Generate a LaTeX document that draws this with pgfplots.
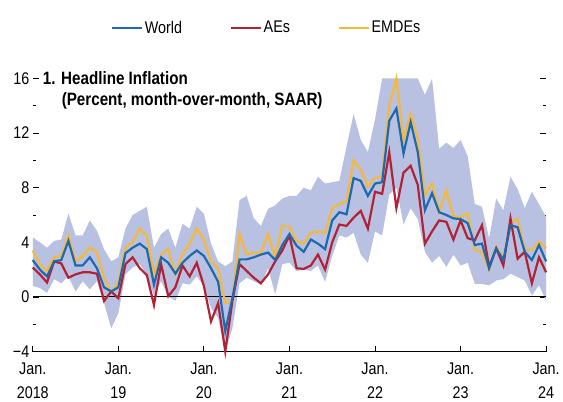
\documentclass[border=0pt]{standalone}
\usepackage{fontspec}
\setmainfont{Liberation Sans}[FakeStretch=0.85]
\usepackage{pgfplots}
\usepackage{pgfplotstable}
\pgfplotsset{compat=1.18}
\usepgfplotslibrary{fillbetween}

\definecolor{worldc}{RGB}{30,104,176}
\definecolor{aesc}{RGB}{178,34,52}
\definecolor{emdesc}{RGB}{246,184,56}
\definecolor{bandc}{RGB}{184,193,226}

% month index from Jan 2018; band = range shown in light blue
\pgfplotstableread{
m world aes emdes lo hi
0 2.7 2.15 3.4 0.8 4.35
1 2.0 1.65 2.4 0.65 4.0
2 1.5 1.05 1.9 0.3 3.6
3 2.6 2.6 2.9 1.3 4.1
4 2.7 2.45 3.0 1.0 4.2
5 4.1 1.4 4.5 1.5 6.1
6 2.3 1.65 2.6 0.4 4.5
7 2.3 1.8 3.0 1.15 4.5
8 2.9 1.8 3.6 0.55 5.6
9 2.1 1.7 3.25 1.15 4.85
10 0.7 -0.3 1.4 -0.45 3.5
11 0.4 0.4 0.3 -2.3 2.6
12 0.7 -0.1 1.1 -1.2 2.9
13 3.2 2.4 3.6 1.65 5.0
14 3.6 2.9 4.0 2.15 6.0
15 3.9 2.1 5.0 2.4 6.3
16 3.5 1.6 4.5 1.65 6.6
17 0.9 -0.6 1.65 0.05 3.6
18 2.9 2.4 3.1 1.15 4.6
19 2.5 0.05 3.5 0.05 5.0
20 1.7 0.7 1.65 -0.3 3.6
21 2.5 2.3 3.1 1.0 5.35
22 3.0 1.5 3.9 0.9 5.0
23 3.4 2.5 5.0 1.5 6.6
24 3.0 0.8 4.2 0.8 6.1
25 2.1 -1.8 2.6 -0.8 3.9
26 1.1 -0.45 2.1 -1.55 2.6
27 -2.5 -4.0 -0.45 -4.0 2.25
28 -0.1 -0.3 -0.3 -2.3 2.6
29 2.75 2.4 4.6 1.0 7.1
30 2.75 1.9 3.1 1.4 7.4
31 2.9 1.4 3.25 1.15 5.75
32 3.1 1.0 3.25 0.9 5.2
33 3.25 1.65 4.6 2.1 6.45
34 2.7 2.6 2.9 0.2 6.7
35 3.8 3.4 5.2 2.4 7.2
36 4.6 4.5 5.15 2.5 7.4
37 3.75 2.1 4.1 1.9 7.4
38 3.3 2.05 3.9 2.0 8.0
39 4.2 2.3 4.7 1.9 7.8
40 3.9 3.1 4.8 2.3 8.8
41 3.5 2.0 4.7 1.1 8.3
42 5.6 4.0 6.5 3.0 8.4
43 6.2 5.3 6.8 4.5 8.5
44 6.05 5.2 7.0 4.35 11.0
45 8.7 5.8 10.0 4.7 13.4
46 8.5 6.3 9.3 3.1 11.5
47 7.4 5.0 8.1 2.5 10.6
48 8.3 7.7 8.7 4.8 13.0
49 8.4 7.55 8.8 4.5 16
50 12.9 10.6 14.0 7.5 16
51 13.8 6.5 16.0 8.0 16
52 10.5 9.1 11.5 5.3 16
53 12.8 9.6 13.4 6.5 16
54 10.6 8.2 11.6 5.7 16
55 6.35 3.9 7.45 3.3 14.8
56 7.6 4.8 8.3 2.5 16
57 6.2 5.6 6.2 3.0 10.85
58 6.0 5.5 7.8 2.2 11.3
59 5.75 4.2 5.9 3.1 10.9
60 5.7 5.6 5.85 2.3 11.5
61 5.4 4.3 6.1 2.5 10.3
62 3.8 4.15 3.45 0.95 6.8
63 3.9 5.25 3.3 0.95 6.6
64 2.1 2.2 2.0 0.85 4.3
65 3.55 3.55 3.7 1.2 7.2
66 2.7 2.3 2.8 1.3 6.35
67 5.25 5.75 5.45 1.7 8.8
68 5.1 2.8 5.7 1.45 7.9
69 3.3 3.3 3.45 1.2 6.5
70 2.7 1.0 3.45 0.1 7.7
71 3.8 2.9 4.05 0.85 6.8
72 2.6 1.8 3.55 -0.3 5.85
}\infl

\begin{document}
\begin{tikzpicture}
\begin{axis}[
  scale only axis, width=517pt, height=275pt,
  xmin=0, xmax=72, ymin=-4, ymax=16,
  clip=false,
  axis line style={draw=none},
  font=\fontsize{17}{20}\selectfont,
  tick align=inside,
  xtick pos=bottom, ytick pos=both,
  xtick={0,12,...,72},
  xticklabels={Jan.\\[4pt]2018,Jan.\\[4pt]19,Jan.\\[4pt]20,Jan.\\[4pt]21,Jan.\\[4pt]22,Jan.\\[4pt]23,Jan.\\[4pt]24},
  xticklabel style={align=center, yshift=-8pt},
  ytick={-4,0,4,8,12,16},
  yticklabels={−4,0,4,8,12,16},
  minor ytick={-2,2,6,10,14},
  major tick length=6pt, minor tick length=3pt,
  tick style={black, line width=0.8pt},
  legend style={draw=none, fill=none, at={(0.5,1)}, anchor=south,
    xshift=-23pt, yshift=40pt, legend columns=3,
    /tikz/every even column/.append style={column sep=46pt}},
  legend image code/.code={\draw[#1] (0pt,0pt) -- (30pt,0pt);},
]
\addlegendimage{worldc, line width=2.2pt}\addlegendentry{World}
\addlegendimage{aesc, line width=2.2pt}\addlegendentry{AEs}
\addlegendimage{emdesc, line width=2.2pt}\addlegendentry{EMDEs}

\addplot[name path=hi, draw=none, forget plot] table[x=m, y=hi] {\infl};
\addplot[name path=lo, draw=none, forget plot] table[x=m, y=lo] {\infl};
\addplot[bandc, forget plot] fill between[of=hi and lo];

\addplot[black, line width=0.9pt, forget plot] coordinates {(0,0) (72,0)};
\addplot[black, line width=0.9pt, forget plot] coordinates {(0,-4) (72,-4)};

\addplot[emdesc, line width=2.2pt, forget plot] table[x=m, y=emdes] {\infl};
\addplot[aesc, line width=2.2pt, forget plot] table[x=m, y=aes] {\infl};
\addplot[worldc, line width=2.2pt, forget plot] table[x=m, y=world] {\infl};

\node[anchor=west, inner sep=0pt, font=\fontsize{18}{21}\selectfont\bfseries, xshift=10pt]
  at (rel axis cs:0,1) {1. Headline Inflation};
\node[anchor=west, inner sep=0pt, font=\fontsize{18}{21}\selectfont\bfseries, xshift=29pt, yshift=-23pt]
  at (rel axis cs:0,1) {(Percent, month-over-month, SAAR)};
\coordinate (O) at (rel axis cs:0,0);
\end{axis}
\path (O) ++(-33pt,-49pt) rectangle ++(563pt,403pt);
\end{tikzpicture}
\end{document}
